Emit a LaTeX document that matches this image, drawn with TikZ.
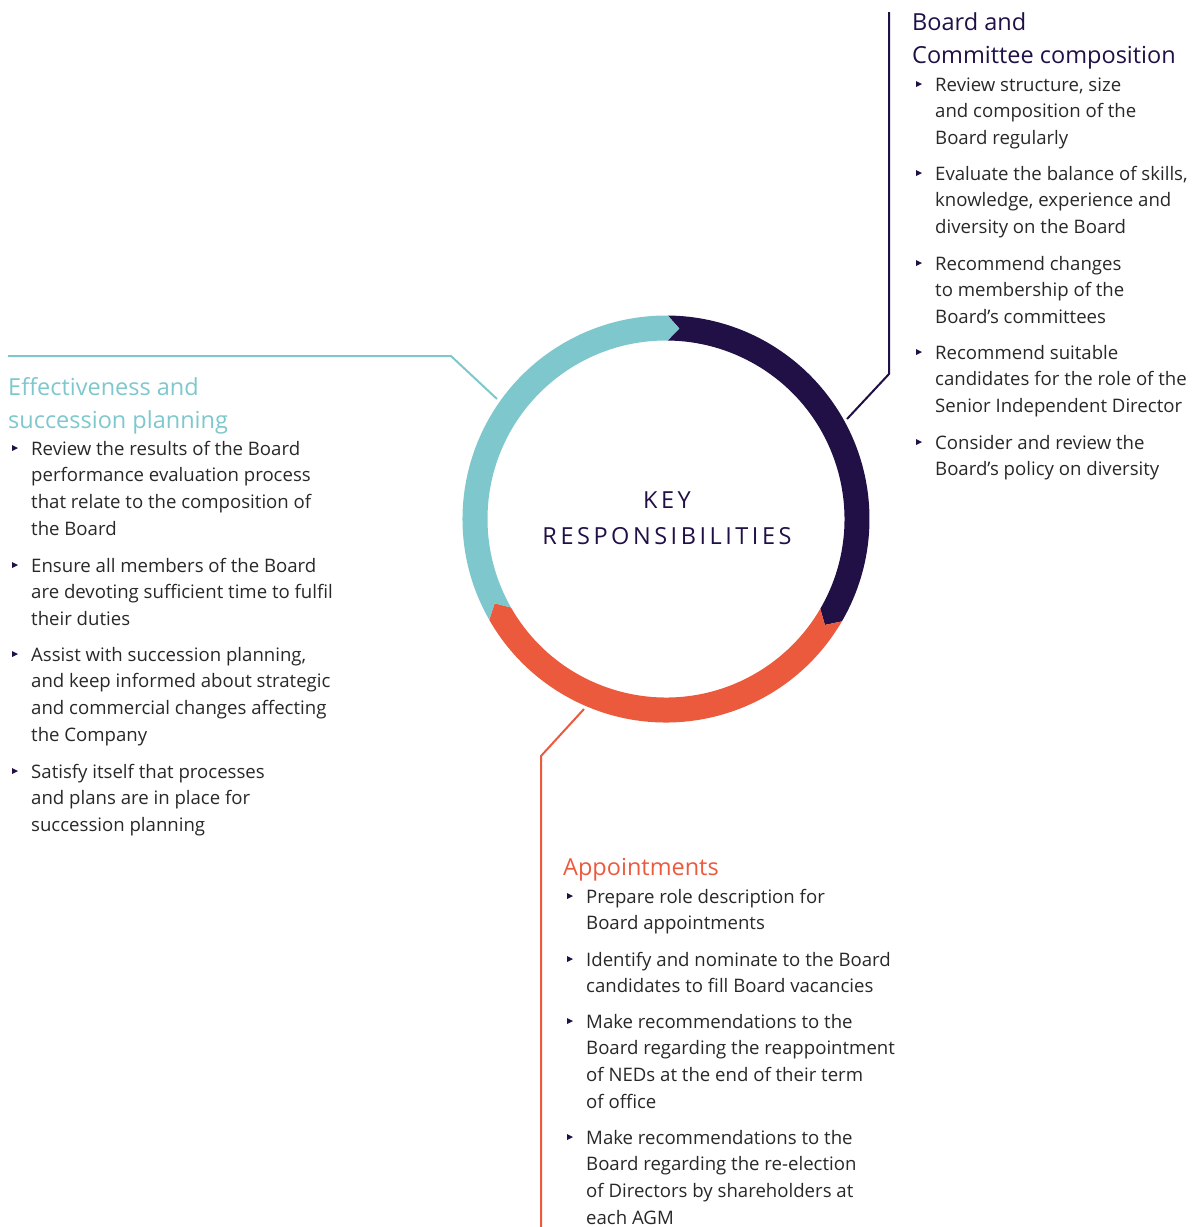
\documentclass[tikz,border=0pt]{standalone}
\usepackage{fontspec}
\setmainfont{Open Sans}
\usepackage{tikz}

\definecolor{krnavy}{RGB}{32,16,70}
\definecolor{krteal}{RGB}{126,200,205}
\definecolor{krorange}{RGB}{236,90,62}
\definecolor{krtext}{RGB}{40,40,40}

% lines stacked from the first baseline down
\newcommand\krlines[2][l]{\begin{tabular}[t]{@{}#1@{}}#2\end{tabular}}

\begin{document}
\begin{tikzpicture}[x=1pt,y=-1pt,
  every node/.style={inner sep=0pt,anchor=base west},
  head/.style={font=\fontsize{23.5}{33}\selectfont},
  item/.style={font=\fontsize{18.6}{26.8}\selectfont,text=krtext},
  link/.style={line width=2pt}]
  \useasboundingbox (0,0) rectangle (1195,1227);

  % ring, three arrow segments going clockwise
  \begin{scope}[shift={(666,519)},y=1pt]
    \foreach \s/\e/\c in {89.5/-30.2/krnavy, -30.2/-150.3/krorange, 209.7/89.5/krteal}
      \fill[\c] (\s:203.5) arc[start angle=\s,end angle=\e,radius=203.5]
        -- (\e-3.5:191) -- (\e:178.5) arc[start angle=\e,end angle=\s,radius=178.5]
        -- (\s-3.5:191) -- cycle;
  \end{scope}
  \node[anchor=base,text=krnavy,
    font=\fontsize{23.5}{36}\addfontfeatures{LetterSpace=15}\selectfont] (key) at (667,508)
    {\krlines[c]{KEY\\RESPONSIBILITIES}};

  % Board and Committee composition
  \coordinate (nv0) at (847,419);
  \coordinate (nv1) at (889,374);
  \coordinate (nv2) at (889,12);
  \draw[link,krnavy] (nv0) -- (nv1) -- (nv2);
  \node[head,text=krnavy] (bc) at (912,30) {\krlines{Board and\\Committee composition}};
  \node[item] (bc1) at (935,91) {\krlines{Review structure, size\\and composition of the\\Board regularly}};
  \node[item] (bc2) at (935,180) {\krlines{Evaluate the balance of skills,\\knowledge, experience and\\diversity on the Board}};
  \node[item] (bc3) at (935,270) {\krlines{Recommend changes\\to membership of the\\Board’s committees}};
  \node[item] (bc4) at (935,359) {\krlines{Recommend suitable\\candidates for the role of the\\Senior Independent Director}};
  \node[item] (bc5) at (935,449) {\krlines{Consider and review the\\Board’s policy on diversity}};

  % Effectiveness and succession planning
  \coordinate (td0) at (497,399);
  \coordinate (td1) at (451,356);
  \coordinate (td2) at (8,356);
  \draw[link,krteal] (td0) -- (td1) -- (td2);
  \node[head,text=krteal] (es) at (8,395) {\krlines{Effectiveness and\\succession planning}};
  \node[item] (es1) at (31,455) {\krlines{Review the results of the Board\\performance evaluation process\\that relate to the composition of\\the Board}};
  \node[item] (es2) at (31,572) {\krlines{Ensure all members of the Board\\are devoting sufficient time to fulfil\\their duties}};
  \node[item] (es3) at (31,661) {\krlines{Assist with succession planning,\\and keep informed about strategic\\and commercial changes affecting\\the Company}};
  \node[item] (es4) at (31,778) {\krlines{Satisfy itself that processes\\and plans are in place for\\succession planning}};

  % Appointments
  \coordinate (or0) at (584,709);
  \coordinate (or1) at (541,756);
  \coordinate (or2) at (541,1227);
  \draw[link,krorange] (or0) -- (or1) -- (or2);
  \node[head,text=krorange] (ap) at (563,875) {Appointments};
  \node[item] (ap1) at (586,903) {\krlines{Prepare role description for\\Board appointments}};
  \node[item] (ap2) at (586,966) {\krlines{Identify and nominate to the Board\\candidates to fill Board vacancies}};
  \node[item] (ap3) at (586,1028) {\krlines{Make recommendations to the\\Board regarding the reappointment\\of NEDs at the end of their term\\of office}};
  \node[item] (ap4) at (586,1144) {\krlines{Make recommendations to the\\Board regarding the re-election\\of Directors by shareholders at\\each AGM}};

  % bullets
  \foreach \n in {bc1,bc2,bc3,bc4,bc5,es1,es2,es3,es4,ap1,ap2,ap3,ap4}
    \fill[krnavy] ([shift={(-19,-10)}]\n.base west) -- ++(0,6) -- ++(6,-3) -- cycle;
\end{tikzpicture}
\end{document}
